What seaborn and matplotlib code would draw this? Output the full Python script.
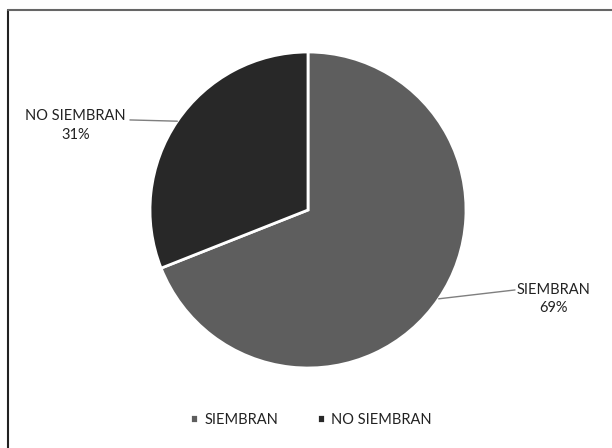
import numpy as np
import matplotlib
matplotlib.use("Agg")
import matplotlib.pyplot as plt
import seaborn as sns
from matplotlib.lines import Line2D

categories = ["SIEMBRAN", "NO SIEMBRAN"]
values = [69, 31]
pct_labels = ["69%", "31%"]
colors = ["#5e5e5e", "#282828"]

sns.set_theme(style="white")
plt.rcParams["font.family"] = ["Lato", "DejaVu Sans"]

W, H = 612, 448
fig = plt.figure(figsize=(W / 100, H / 100), dpi=100)
fig.patch.set_facecolor("white")

# border (top and left visible)
fig.add_artist(Line2D([8 / W, 8 / W], [0, 1 - 10 / H], transform=fig.transFigure, color="#222222", lw=1.5))
fig.add_artist(Line2D([8 / W, 1], [1 - 10 / H, 1 - 10 / H], transform=fig.transFigure, color="#666666", lw=1.5))

cx, cy, r = 308, 210, 158
ax = fig.add_axes([(cx - r) / W, (H - cy - r) / H, 2 * r / W, 2 * r / H])
wedges, _ = ax.pie(values, colors=colors, startangle=90, counterclock=False,
                   wedgeprops=dict(edgecolor="white", linewidth=2))
ax.set_xlim(-1, 1)
ax.set_ylim(-1, 1)
ax.set_aspect("equal")
ax.axis("off")

# label anchor positions (layout)
text_pos = [(1.555, -0.565), (-1.47, 0.535)]
line_end = [(1.31, -0.506), (-1.127, 0.57)]

for w, cat, pct, tp, le in zip(wedges, categories, pct_labels, text_pos, line_end):
    ang = np.deg2rad((w.theta1 + w.theta2) / 2)
    x0, y0 = np.cos(ang), np.sin(ang)
    ax.plot([x0, le[0]], [y0, le[1]], color="#7f7f7f", lw=1, clip_on=False)
    ax.text(tp[0], tp[1], f"{cat}\n{pct}", ha="center", va="center", fontsize=10.5,
            color="#222222", linespacing=1.4, clip_on=False)

fig.legend(wedges, categories, loc="center", bbox_to_anchor=(311 / W, 1 - 420 / H), ncol=2,
           frameon=False, fontsize=10.5, handlelength=0.55, handleheight=0.55,
           handletextpad=0.45, columnspacing=2.6, labelcolor="#222222")

fig.savefig("out.png", dpi=100, facecolor="white")
